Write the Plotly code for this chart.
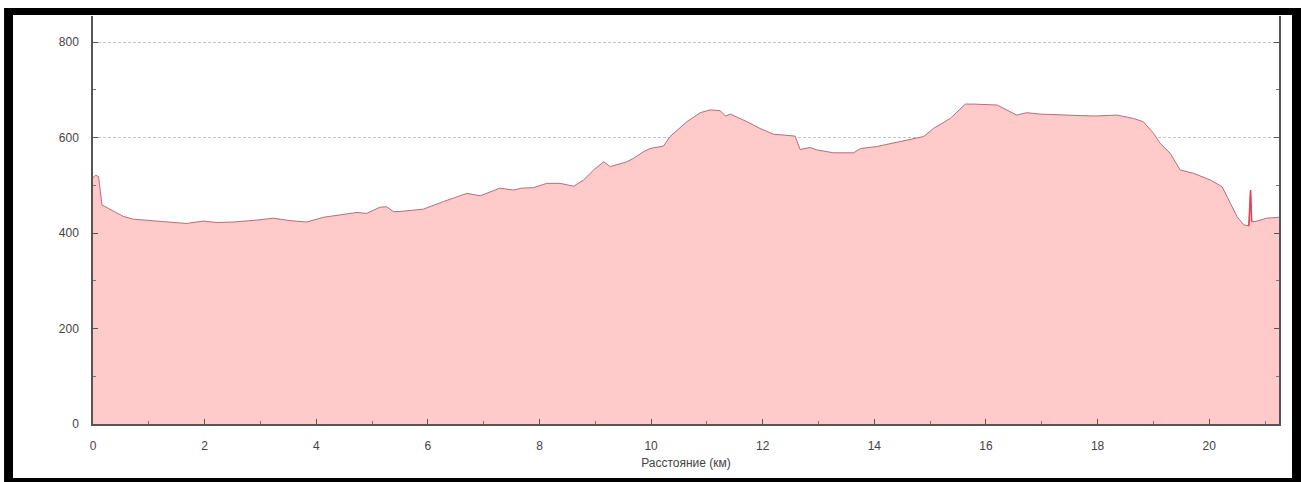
import plotly.graph_objects as go

distance_km = [0.00, 0.05, 0.10, 0.16, 0.30, 0.54, 0.72, 1.14, 1.32, 1.68, 1.97, 2.22, 2.51,
               2.75, 2.93, 3.23, 3.53, 3.83, 4.13, 4.43, 4.73, 4.90, 5.14, 5.26, 5.38,
               5.50, 5.68, 5.92, 6.28, 6.70, 6.94, 7.29, 7.53, 7.68, 7.89, 8.13, 8.37,
               8.61, 8.79, 8.97, 9.15, 9.27, 9.56, 9.68, 9.86, 9.98, 10.22, 10.34, 10.64,
               10.88, 11.06, 11.24, 11.33, 11.42, 11.72, 11.95, 12.19, 12.49, 12.58,
               12.67, 12.85, 12.97, 13.27, 13.63, 13.75, 14.04, 14.34, 14.64, 14.79,
               14.88, 15.06, 15.36, 15.63, 15.78, 16.20, 16.37, 16.55, 16.73, 16.97,
               17.45, 17.93, 18.35, 18.64, 18.82, 19.00, 19.12, 19.30, 19.48, 19.72,
               20.02, 20.23, 20.38, 20.50, 20.62, 20.71, 20.74, 20.76, 20.82, 21.03, 21.25]
elevation_m = [516, 521, 518, 459, 450, 435, 429, 425, 422, 420, 425, 422, 423,
               425, 427, 431, 426, 423, 433, 438, 443, 441, 454, 455, 445,
               445, 447, 450, 466, 483, 478, 494, 490, 494, 495, 504, 504,
               498, 511, 532, 549, 539, 549, 556, 570, 577, 582, 602, 633,
               652, 658, 656, 645, 649, 633, 619, 607, 603, 603,
               575, 579, 574, 568, 568, 577, 581, 588, 595, 600,
               602, 619, 640, 670, 670, 668, 658, 647, 652, 649,
               647, 645, 647, 640, 633, 609, 588, 567, 532, 525,
               511, 497, 462, 434, 417, 415, 490, 424, 424, 431, 433]

# GPS spike near the end (drawn in red)
spike_km = [20.71, 20.74, 20.76]
spike_m = [415, 490, 424]

x_ticks = [0, 2, 4, 6, 8, 10, 12, 14, 16, 18, 20]
y_ticks = [0, 200, 400, 600, 800]
x_title = "Расстояние (км)"

fig = go.Figure()
fig.add_trace(go.Scatter(
    x=distance_km, y=elevation_m, mode="lines",
    line=dict(color="#c26a74", width=1),
    fill="tozeroy", fillcolor="#ffcaca",
    hoverinfo="x+y", showlegend=False))
fig.add_trace(go.Scatter(
    x=spike_km, y=spike_m, mode="lines",
    line=dict(color="#e8405c", width=1.5),
    hoverinfo="skip", showlegend=False))

axis_font = dict(family="Liberation Sans, Arial, sans-serif", size=12, color="#444444")

fig.update_layout(
    width=1301, height=482,
    margin=dict(l=93, r=22, t=16, b=58),
    paper_bgcolor="white", plot_bgcolor="white",
    font=axis_font,
    shapes=[
        dict(type="rect", xref="paper", yref="paper",
             x0=-0.075, x1=1.03, y0=-0.2, y1=1.0196,
             fillcolor="black", line=dict(width=0), layer="below"),
        dict(type="rect", xref="paper", yref="paper",
             x0=-0.06745, x1=1.01096, y0=-0.1324, y1=1.0025,
             fillcolor="white", line=dict(width=0), layer="below"),
    ],
)

fig.update_xaxes(
    range=[0, 21.25], tickvals=x_ticks, ticktext=[str(v) for v in x_ticks],
    ticks="inside", ticklen=5, tickcolor="#555555",
    minor=dict(dtick=1, ticks="inside", ticklen=3, tickcolor="#777777", showgrid=False),
    showline=True, linecolor="#555555", linewidth=1.5, mirror=False,
    showgrid=False, zeroline=False,
    ticklabelstandoff=10,
    title=dict(text=x_title, standoff=6, font=dict(size=12, color="#444444")),
    tickfont=axis_font,
)
fig.update_yaxes(
    range=[0, 854.5], tickvals=y_ticks, ticktext=[str(v) for v in y_ticks],
    ticks="inside", ticklen=5, tickcolor="#555555",
    minor=dict(dtick=100, ticks="inside", ticklen=3, tickcolor="#777777", showgrid=False),
    showline=True, linecolor="#555555", linewidth=1.5, mirror="ticks",
    showgrid=True, gridcolor="#c4c4c4", griddash="3px,2px", gridwidth=1,
    zeroline=False, ticklabelstandoff=10,
    tickfont=axis_font,
)

fig.write_html("out.html", config={"displayModeBar": False},
               post_script="document.body.style.margin='0';")
